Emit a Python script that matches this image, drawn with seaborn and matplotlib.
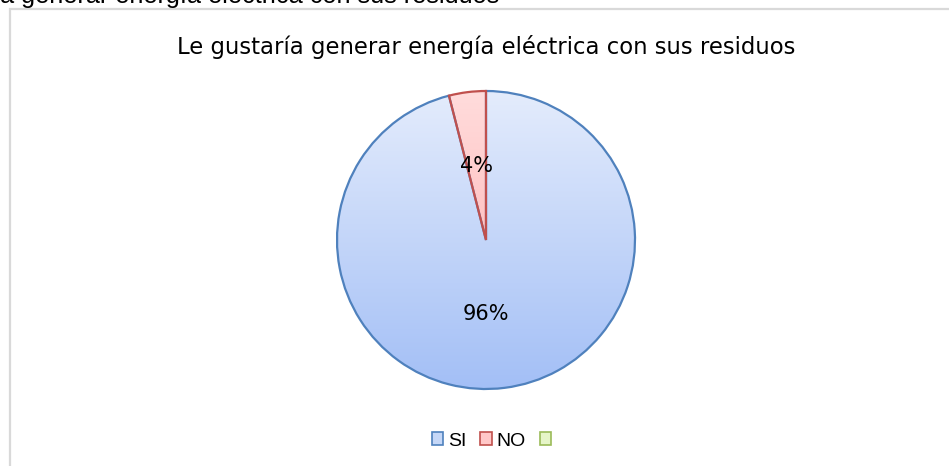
import numpy as np
import matplotlib
matplotlib.use("Agg")
import matplotlib.pyplot as plt
import seaborn as sns
from matplotlib.patches import Rectangle, Patch
from matplotlib.colors import LinearSegmentedColormap

sns.set_theme(style="white")
plt.rcParams['font.family'] = ['DejaVu Sans']
plt.rcParams['text.color'] = 'black'

# Data
categories = ["SI", "NO"]
values = [96, 4]
legend_labels = ["SI", "NO", ""]
title = "Le gustaría generar energía eléctrica con sus residuos"
top_text = "a generar energía eléctrica con sus residuos"

edge_colors = ["#4f81bd", "#c0504d", "#9bbb59"]
grad_top = ["#e4ecfc", "#ffdcdc"]
grad_bot = ["#a3bff6", "#ffa8a8"]
legend_fill = ["#c5d7f7", "#ffc8c8", "#e6f5c8"]

W, H = 949, 466
fig = plt.figure(figsize=(W / 100, H / 100), dpi=100)
fig.patch.set_facecolor("white")

# chart border (box extends off right/bottom)
fig.patches.append(Rectangle((10 / W, -0.05), 1.2, 1 - 9 / H + 0.05,
                             transform=fig.transFigure, fill=False,
                             edgecolor="#d9d9d9", linewidth=1.6, zorder=0))

# clipped text at top
fig.text(0 / W, 1 - 3.5 / H, top_text, fontsize=18.2, family=['Liberation Sans'],
         va="baseline", ha="left", color="black")

cx, cy, r = 486, 240, 149
ax = fig.add_axes([(cx - r) / W, (H - cy - r) / H, 2 * r / W, 2 * r / H])
wedges, texts, autotexts = ax.pie(values, startangle=90, counterclock=False,
                                  autopct=lambda p: f"{p:.0f}%", pctdistance=0.5,
                                  wedgeprops=dict(linewidth=1.6),
                                  textprops=dict(fontsize=15, color="black"))
ax.set_xlim(-1.0, 1.0)
ax.set_ylim(-1.0, 1.0)
ax.set_aspect("equal")
ax.axis("off")

for i, w in enumerate(wedges):
    w.set_facecolor("none")
    w.set_edgecolor(edge_colors[i])
    w.set_zorder(3)
    cmap = LinearSegmentedColormap.from_list(f"g{i}", [grad_bot[i], grad_top[i]])
    grad = np.linspace(0, 1, 256).reshape(-1, 1)
    im = ax.imshow(grad, extent=[-1, 1, -1, 1], origin="lower", cmap=cmap,
                   aspect="auto", zorder=2)
    im.set_clip_path(w)

autotexts[0].set_position((0, -0.497))
for t in autotexts:
    t.set_zorder(5)

fig.text(486 / W, 1 - 47 / H, title, fontsize=16.4, ha="center", va="center",
         color="black")

handles = [Patch(facecolor=legend_fill[i], edgecolor=edge_colors[i], linewidth=1.2)
           for i in range(3)]
leg = fig.legend(handles, legend_labels, loc="center", bbox_to_anchor=(494 / W, 1 - 441 / H),
                 ncol=3, frameon=False, handlelength=0.6, handleheight=0.6,
                 handletextpad=0.25, columnspacing=0.7,
                 prop=dict(family="Liberation Sans", size=14))
for t in leg.get_texts():
    t.set_color("black")

fig.savefig("out.png", dpi=100)
